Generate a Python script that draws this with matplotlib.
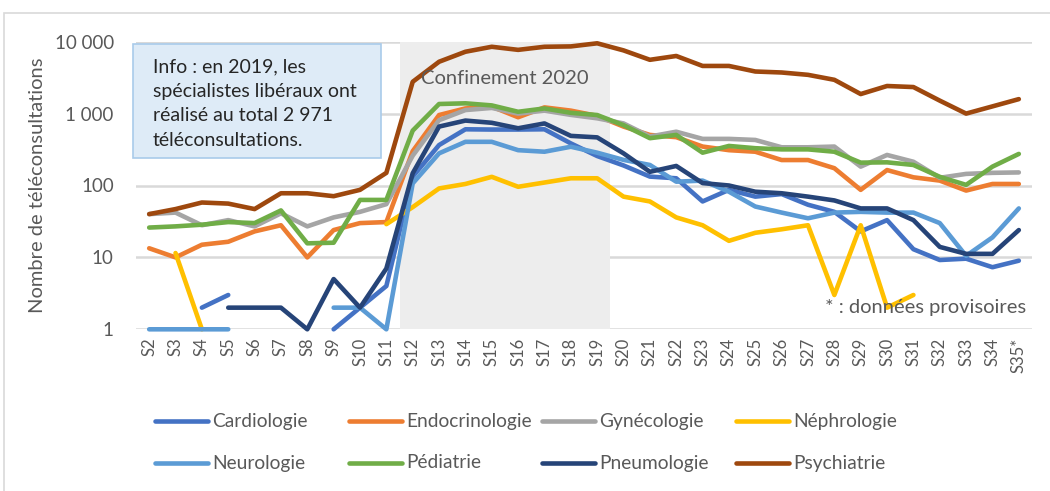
import numpy as np
import matplotlib.pyplot as plt
from matplotlib.lines import Line2D
from matplotlib.patches import Rectangle

nan = np.nan

weeks = ['S%d' % i for i in range(2, 35)] + ['S35*']

cardio = [nan, nan, 2, 3, nan, nan, nan, 1, 2, 4,
          133, 365, 605, 600, 600, 605, 385, 257,
          190, 133, 126, 60, 87, 70, 76, 54, 43, 23, 33, 13, 9.2, 9.6, 7.3, 9]
endo = [13.4, 10, 15, 16.5, 23, 28, 10, 24, 30, 31,
        300, 955, 1180, 1250, 890, 1220, 1100, 930,
        660, 505, 470, 348, 310, 295, 226, 226, 174, 87, 164, 130, 117, 85, 105, 105]
gyn = [40, 42, 28, 33, 27, 41, 27, 36, 43, 55,
       260, 810, 1120, 1200, 1000, 1100, 960, 860,
       730, 480, 560, 445, 445, 430, 340, 340, 348, 183, 266, 214, 128, 145, 150, 152]
nephro = [nan, 11.5, 1, nan, nan, nan, nan, nan, nan, 29,
          50, 91, 105, 132, 96, 110, 126, 126,
          70, 60, 36, 28, 17, 22, 24.6, 28, 3, 28, 2, 3, nan, nan, nan, nan]
neuro = [1, 1, 1, 1, nan, nan, nan, 2, 2, 1,
         107, 280, 405, 405, 310, 295, 346, 286,
         227, 193, 113, 117, 82, 51, 42, 35, 42, 43, 42, 42, 30, 10.5, 19, 48]
pedia = [26, 27, 28.5, 31, 30, 45, 15.7, 16, 63, 63,
         580, 1360, 1390, 1300, 1060, 1180, 1025, 955,
         690, 455, 505, 286, 355, 330, 318, 318, 295, 208, 210, 193, 132, 102, 183, 275]
pneumo = [nan, nan, nan, 2, 2, 2, 1, 5, 2, 7,
          148, 660, 800, 745, 625, 730, 490, 467,
          280, 155, 187, 108, 100, 82, 78, 70, 62, 48, 48, 33, 14, 11.2, 11.2, 24]
psy = [40, 47, 58, 56, 47, 78, 78, 71, 87, 150,
       2770, 5260, 7250, 8500, 7700, 8500, 8600, 9500,
       7570, 5600, 6330, 4600, 4600, 3850, 3730, 3460, 2950, 1870, 2420, 2340, 1515, 1000, 1260, 1590]

names = ['Cardiologie', 'Endocrinologie', 'Gynécologie', 'Néphrologie',
         'Neurologie', 'Pédiatrie', 'Pneumologie', 'Psychiatrie']
series = [cardio, endo, gyn, nephro, neuro, pedia, pneumo, psy]
colors = ['#4472C4', '#ED7D31', '#A5A5A5', '#FFC000',
          '#5B9BD5', '#70AD47', '#264478', '#9E480E']

plt.rcParams['font.family'] = ['Lato', 'DejaVu Sans']
grey = '#595959'

fig = plt.figure(figsize=(10.5, 4.91), dpi=100)
ax = fig.add_axes([136/1050, 1 - 329.3/491, (1032-136)/1050, (329.3-41.7)/491])

x = np.arange(len(weeks))
ax.axvspan(9.5, 17.5, color='#EDEDED', zorder=1, lw=0)
for s, c in zip(series, colors):
    ax.plot(x, s, color=c, lw=3.3, solid_capstyle='round', zorder=2, clip_on=False)

ax.set_yscale('log')
ax.set_ylim(1, 10000)
ax.set_xlim(-0.5, len(weeks) - 0.5)
ax.set_yticks([1, 10, 100, 1000, 10000])
ax.set_yticklabels(['1', '10', '100', '1 000', '10 000'])
ax.minorticks_off()
ax.set_xticks(x)
ax.set_xticklabels(weeks, rotation=90)
ax.tick_params(length=0, colors=grey, labelsize=12)
ax.tick_params(axis='y', labelsize=13.5, pad=16)
ax.tick_params(axis='x', pad=6)
ax.grid(axis='y', color='#D9D9D9', lw=1.8)
ax.set_axisbelow(True)
for sp in ax.spines.values():
    sp.set_visible(False)
ax.set_ylabel('Nombre de téléconsultations', color=grey, fontsize=14.5, labelpad=6)

ax.text(13.5, 3100, 'Confinement 2020', color=grey, fontsize=14.5, ha='center', va='center', zorder=3)

# info box
box = Rectangle((133/1050, 1 - 158/491), (381-133)/1050, (158-44)/491, transform=fig.transFigure,
                facecolor='#DEEBF7', edgecolor='#A9CBEA', lw=1.2, zorder=5)
fig.add_artist(box)
fig.text(153/1050, 1 - 58/491,
         'Info : en 2019, les\nspécialistes libéraux ont\nréalisé au total 2 971\ntéléconsultations.',
         fontsize=14, color='#262626', va='top', ha='left', linespacing=1.55, zorder=6)

fig.text(1026/1050, 1 - 307/491, '* : données provisoires', color=grey, fontsize=14.5,
         ha='right', va='center')

# legend, 2 rows x 4 columns
col_x = [155, 349, 542, 736]
row_y = [421, 463]
for i, (n, c) in enumerate(zip(names, colors)):
    cx = col_x[i % 4]
    cy = 1 - row_y[i // 4] / 491
    fig.add_artist(Line2D([cx/1050, (cx+53)/1050], [cy, cy], color=c, lw=3.3,
                          solid_capstyle='round', transform=fig.transFigure))
    fig.text((cx+57)/1050, cy, n, color=grey, fontsize=13.8, va='center', ha='left')

# chart frame
fig.add_artist(Rectangle((4/1050, -0.1), 1.2, (491-13)/491 + 0.1, transform=fig.transFigure,
                         fill=False, edgecolor='#D9D9D9', lw=1.2))

fig.savefig('out.png', dpi=100)
